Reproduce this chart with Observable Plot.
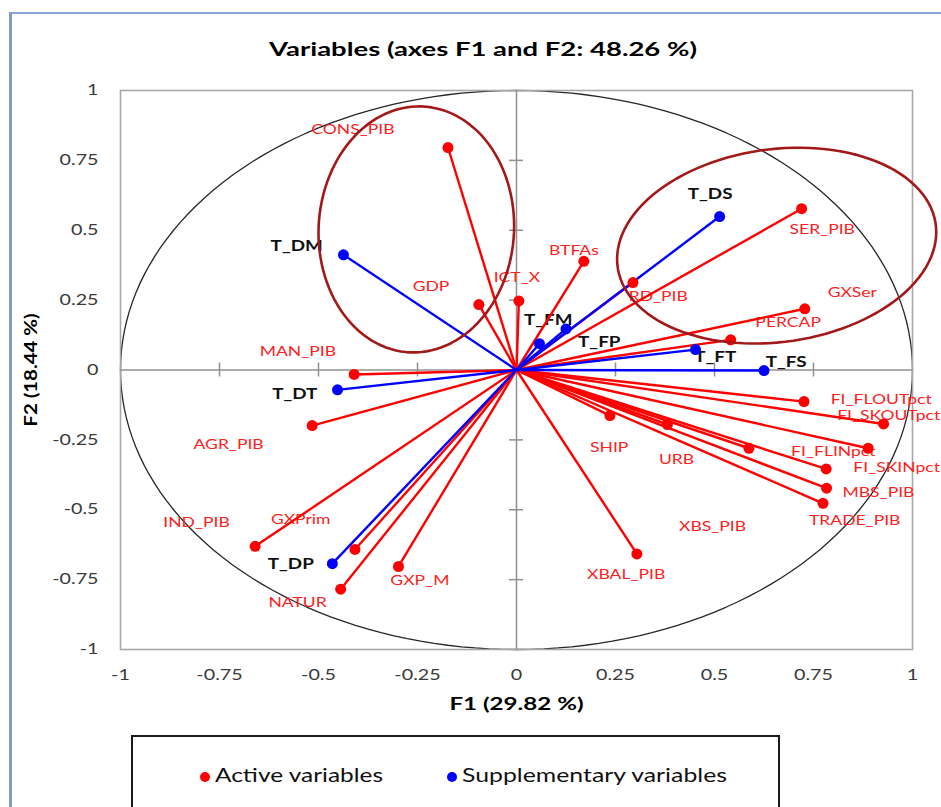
<!DOCTYPE html>
<html><head><meta charset="utf-8">
<script src="https://cdn.jsdelivr.net/npm/d3@7"></script>
<script src="https://cdn.jsdelivr.net/npm/@observablehq/plot@0.6"></script>
<style>
html,body{margin:0;padding:0;background:#fff;overflow:hidden;}
#page{position:relative;width:941px;height:807px;overflow:hidden;background:#fff;}
#outer{position:absolute;left:9px;top:12px;width:1000px;height:900px;border-left:3px solid #7d9bc8;border-top:2px solid #8aa6d6;box-sizing:border-box;}
#title{position:absolute;left:269px;top:38px;white-space:nowrap;font-family:Lato,sans-serif;font-weight:bold;font-size:19px;line-height:22px;color:#000;}
#chart{position:absolute;left:0;top:70px;}
#legend{position:absolute;left:131px;top:735px;width:649px;height:120px;border:2px solid #1a1a1a;box-sizing:border-box;}
.lg{position:absolute;white-space:nowrap;font-family:Lato,sans-serif;font-size:20px;line-height:22px;color:#111;}
.sw{position:absolute;width:10px;height:10px;border-radius:50%;}
g[aria-label="x-axis label"] text, g[aria-label="y-axis label"] text{font-weight:bold;font-size:17px;fill:#000;}
</style></head>
<body><div id="page">
<div id="outer"></div>
<div id="title">Variables (axes F1 and F2: 48.26 %)</div>
<div id="chart"></div>
<div id="legend"></div>
</div>
<script>
// ---- data ----
const activeNames = ["CONS_PIB","GDP","ICT_X","BTFAs","RD_PIB","SER_PIB","GXSer","PERCAP","MAN_PIB","AGR_PIB","IND_PIB","GXPrim","NATUR","GXP_M","SHIP","URB","XBS_PIB","XBAL_PIB","FI_FLOUTpct","FI_SKOUTpct","FI_FLINpct","FI_SKINpct","MBS_PIB","TRADE_PIB"];
const activeF1 = [-0.173,-0.095,0.006,0.170,0.294,0.720,0.728,0.541,-0.410,-0.516,-0.660,-0.408,-0.444,-0.298,0.236,0.381,0.587,0.304,0.726,0.927,0.888,0.782,0.783,0.774];
const activeF2 = [0.796,0.234,0.247,0.389,0.313,0.577,0.219,0.108,-0.016,-0.199,-0.631,-0.642,-0.784,-0.703,-0.163,-0.195,-0.280,-0.658,-0.113,-0.193,-0.280,-0.354,-0.423,-0.477];
const activeLabelF1 = [-0.413,-0.216,0.001,0.145,0.358,0.772,0.848,0.686,-0.552,-0.727,-0.808,-0.545,-0.553,-0.244,0.234,0.404,0.495,0.277,0.921,0.940,0.800,0.960,0.914,0.854];
const activeLabelF2 = [0.860,0.299,0.331,0.427,0.263,0.503,0.277,0.170,0.066,-0.267,-0.546,-0.535,-0.833,-0.753,-0.279,-0.320,-0.560,-0.732,-0.106,-0.163,-0.292,-0.349,-0.438,-0.538];

const suppNames = ["T_DM","T_DS","T_FM","T_FP","T_FT","T_FS","T_DT","T_DP"];
const suppF1 = [-0.437,0.513,0.058,0.125,0.452,0.625,-0.452,-0.465];
const suppF2 = [0.412,0.549,0.094,0.147,0.073,-0.002,-0.071,-0.693];
const suppLabelF1 = [-0.555,0.489,0.080,0.209,0.502,0.681,-0.560,-0.570];
const suppLabelF2 = [0.442,0.628,0.177,0.098,0.045,0.027,-0.088,-0.696];

const tickValues = [-1,-0.75,-0.5,-0.25,0,0.25,0.5,0.75,1];
const tickLabels = ["-1","-0.75","-0.5","-0.25","0","0.25","0.5","0.75","1"];

// highlight ellipses (annotation), in factor units
const ellipseCx = [-0.253, 0.657];
const ellipseCy = [0.503, 0.445];
const ellipseRx = [0.247, 0.403];
const ellipseRy = [0.440, 0.347];
const ellipseShear = [0.05, 0.12];

const titleText = "Variables (axes F1 and F2: 48.26 %)";
const xTitle = "F1 (29.82 %)";
const yTitle = "F2 (18.44 %)";
const legendNames = ["Active variables", "Supplementary variables"];

// ---- build tables ----
const active = activeNames.map((n,i)=>({name:n, f1:activeF1[i], f2:activeF2[i], lx:activeLabelF1[i], ly:activeLabelF2[i]}));
const supp = suppNames.map((n,i)=>({name:n, f1:suppF1[i], f2:suppF2[i], lx:suppLabelF1[i], ly:suppLabelF2[i]}));
const circle = d3.range(0, 361, 2).map(a => ({x: Math.cos(a*Math.PI/180), y: Math.sin(a*Math.PI/180)}));
const ellipses = [];
ellipseCx.forEach((cx,k)=>{
  d3.range(0, 361, 3).forEach(a=>{
    const t = a*Math.PI/180;
    ellipses.push({id:k, x: cx + ellipseRx[k]*Math.cos(t), y: ellipseCy[k] + ellipseRy[k]*Math.sin(t) + ellipseShear[k]*ellipseRx[k]*Math.cos(t)});
  });
});
const innerTicks = tickValues.filter(v => v !== 0 && Math.abs(v) !== 1);
const fmt = d => tickLabels[tickValues.indexOf(d)];

const chart = Plot.plot({
  width: 941, height: 649,
  marginTop: 20, marginBottom: 70, marginLeft: 120, marginRight: 29,
  style: {fontFamily: "Lato, sans-serif", fontSize: "14.5px", color: "#3a3a3a", background: "transparent", overflow: "visible"},
  x: {domain: [-1,1], ticks: tickValues, tickFormat: fmt, tickSize: 0, tickPadding: 20, label: xTitle, labelAnchor: "center", labelOffset: 60, labelArrow: "none"},
  y: {domain: [-1,1], ticks: tickValues, tickFormat: fmt, tickSize: 0, tickPadding: 22, label: yTitle, labelAnchor: "center", labelOffset: 96, labelArrow: "none"},
  marks: [
    Plot.line(circle, {x:"x", y:"y", stroke:"#262626", strokeWidth:1.3}),
    Plot.frame({stroke:"#a8a8a8", strokeWidth:1.6}),
    Plot.ruleX([0], {stroke:"#909090", strokeWidth:1.5}),
    Plot.ruleY([0], {stroke:"#909090", strokeWidth:1.5}),
    Plot.ruleX(innerTicks, {x: d=>d, y1: ()=>0, y2: ()=>0, insetTop:-7, insetBottom:-7, stroke:"#909090", strokeWidth:1.5}),
    Plot.ruleY(innerTicks, {y: d=>d, x1: ()=>0, x2: ()=>0, insetLeft:-7, insetRight:-7, stroke:"#909090", strokeWidth:1.5}),
    Plot.text(active, {x:"lx", y:"ly", text:"name", fill:"#ff2020", fontSize:13.5, fontFamily:"Lato, sans-serif"}),
    Plot.text(supp, {x:"lx", y:"ly", text:"name", fill:"#111", fontSize:14.5, fontWeight:"bold", fontFamily:"Lato, sans-serif"}),
    Plot.link(active, {x1:()=>0, y1:()=>0, x2:"f1", y2:"f2", stroke:"#ff0000", strokeWidth:2.4}),
    Plot.link(supp, {x1:()=>0, y1:()=>0, x2:"f1", y2:"f2", stroke:"#0000ff", strokeWidth:2.4}),
    Plot.dot(active, {x:"f1", y:"f2", r:5.5, fill:"#ff0000"}),
    Plot.dot(supp, {x:"f1", y:"f2", r:5.5, fill:"#0000ff"}),
    Plot.line(ellipses, {x:"x", y:"y", z:"id", stroke:"#a31818", strokeWidth:2.6})
  ]
});
document.getElementById("chart").appendChild(chart);

// remove any axis-label arrows, keep the reference wording
chart.querySelectorAll('g[aria-label="x-axis label"] text, g[aria-label="y-axis label"] text').forEach(t=>{
  t.textContent = t.textContent.replace(/\s*[→←↑↓]\s*/g, "").trim();
});

// horizontal stretch of text (the reference is a horizontally stretched image)
function stretch(sel, k){
  chart.querySelectorAll(sel).forEach(t=>{
    const tr = t.getAttribute("transform");
    if (tr) t.setAttribute("transform", tr + ` scale(${k},1)`);
    else {
      const x = +t.getAttribute("x") || 0, y = +t.getAttribute("y") || 0;
      t.setAttribute("transform", `translate(${x},${y}) scale(${k},1) translate(${-x},${-y})`);
    }
  });
}
stretch('g[aria-label="text"] text', 1.3);
stretch('g[aria-label="x-axis tick label"] text', 1.36);
stretch('g[aria-label="y-axis tick label"] text', 1.36);
stretch('g[aria-label="x-axis label"] text', 1.42);
stretch('g[aria-label="y-axis label"] text', 1.2);

// legend
const legend = document.getElementById("legend");
const legendColors = ["#ff0000", "#0000ff"];
const legendX = [82, 329];
const legendW = [168, 265];
legendNames.forEach((n,i)=>{
  const sw = document.createElement("div");
  sw.className = "sw"; sw.style.background = legendColors[i];
  sw.style.left = (legendX[i]-15) + "px"; sw.style.top = "35px";
  legend.appendChild(sw);
  const s = document.createElement("div");
  s.className = "lg"; s.textContent = n; s.dataset.w = legendW[i];
  s.style.left = legendX[i] + "px"; s.style.top = "26px";
  legend.appendChild(s);
});
document.getElementById("title").textContent = titleText;
document.getElementById("title").dataset.w = 428;

function fitAll(){
  document.querySelectorAll("[data-w]").forEach(el=>{
    el.style.transform = "";
    const w = el.getBoundingClientRect().width;
    el.style.transformOrigin = "0 0";
    el.style.transform = `scaleX(${(+el.dataset.w)/w})`;
  });
}
fitAll();
if (document.fonts && document.fonts.ready) document.fonts.ready.then(fitAll);
</script>
</body></html>
